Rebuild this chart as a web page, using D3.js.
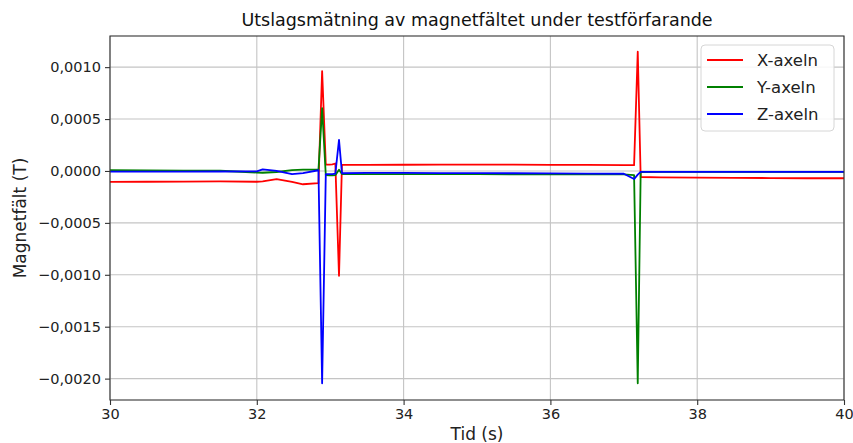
<!DOCTYPE html>
<html>
<head>
<meta charset="utf-8">
<script src="https://cdn.jsdelivr.net/npm/d3@7"></script>
<style>
  html, body { margin: 0; padding: 0; background: #fff; }
  svg { display: block; font-family: "DejaVu Sans", sans-serif; }
</style>
</head>
<body>
<svg id="chart" width="853" height="443"></svg>
<script>
// ---- Data ----
const time = [30, 30.5, 31, 31.5, 32, 32.08, 32.27, 32.48, 32.63, 32.84, 32.89, 32.94, 32.99, 33.03, 33.07, 33.12, 33.16,
              33.5, 34, 34.5, 35, 35.5, 36, 36.5, 37, 37.14, 37.19, 37.23, 37.5, 38, 38.5, 39, 39.5, 40];

const xAxeln = [-0.000106, -0.000104, -0.000102, -0.000100, -0.000104, -0.000100, -0.000078, -0.000105, -0.000128, -0.000118,
                0.000962, 0.000062, 0.000062, 0.000063, 0.000072, -0.001010, 0.000058,
                0.000058, 0.000060, 0.000062, 0.000062, 0.000061, 0.000059, 0.000058, 0.000056, 0.000056,
                0.001149, -0.000058, -0.000062, -0.000065, -0.000066, -0.000068, -0.000070, -0.000070];

const yAxeln = [0.000007, 0.000006, 0.000004, 0.000002, -0.000015, -0.000017, -0.000010, 0.000008, 0.000013, 0.000012,
                0.000604, -0.000040, -0.000042, -0.000042, -0.000040, 0.000012, -0.000030,
                -0.000030, -0.000030, -0.000031, -0.000031, -0.000032, -0.000032, -0.000033, -0.000033, -0.000040,
                -0.002045, -0.000010, -0.000009, -0.000009, -0.000009, -0.000008, -0.000008, -0.000008];

const zAxeln = [-0.000007, -0.000007, -0.000006, -0.000005, -0.000003, 0.000016, 0.000000, -0.000031, -0.000020, 0.000007,
                -0.002045, -0.000030, -0.000030, -0.000030, -0.000025, 0.000299, -0.000022,
                -0.000018, -0.000019, -0.000020, -0.000021, -0.000022, -0.000024, -0.000026, -0.000027, -0.000078,
                -0.000035, -0.000008, -0.000008, -0.000008, -0.000008, -0.000008, -0.000008, -0.000008];

const seriesNames = ["X-axeln", "Y-axeln", "Z-axeln"];
const seriesColors = ["#ff0000", "#008000", "#0000ff"];
const xTicks = [30, 32, 34, 36, 38, 40];
const yTicks = [-0.0020, -0.0015, -0.0010, -0.0005, 0.0000, 0.0005, 0.0010];

const titleText = "Utslagsmätning av magnetfältet under testförfarande";
const xLabel = "Tid (s)";
const yLabel = "Magnetfält (T)";

// ---- Layout ----
const W = 853, H = 443;
const margin = {left: 110, right: 9, top: 36, bottom: 43};
const svg = d3.select("#chart");

const x = d3.scaleLinear().domain([30, 40]).range([margin.left, W - margin.right]);
const y = d3.scaleLinear().domain([-0.002206, 0.0013]).range([H - margin.bottom, margin.top]);

const fmtY = v => {
  const s = Math.abs(v).toFixed(4).replace(".", ",");
  return (v < -1e-12 ? "\u2212" : "") + s;
};

// grid
const grid = svg.append("g");
grid.selectAll("line.gx").data(xTicks).join("line")
  .attr("x1", d => x(d)).attr("x2", d => x(d))
  .attr("y1", margin.top).attr("y2", H - margin.bottom)
  .attr("stroke", "#c4c4c4").attr("stroke-width", 1.1);
grid.selectAll("line.gy").data(yTicks).join("line")
  .attr("y1", d => y(d)).attr("y2", d => y(d))
  .attr("x1", margin.left).attr("x2", W - margin.right)
  .attr("stroke", "#c4c4c4").attr("stroke-width", 1.1);

// lines
const seriesData = [xAxeln, yAxeln, zAxeln];
const line = d3.line().x(d => x(d[0])).y(d => y(d[1]));
seriesData.forEach((vals, i) => {
  svg.append("path")
    .datum(time.map((t, j) => [t, vals[j]]))
    .attr("fill", "none")
    .attr("stroke", seriesColors[i])
    .attr("stroke-width", 1.8)
    .attr("stroke-linejoin", "round")
    .attr("d", line);
});

// axes
const xAxis = d3.axisBottom(x).tickValues(xTicks).tickFormat(d3.format("d")).tickSizeOuter(0).tickSize(5).tickPadding(4);
const yAxis = d3.axisLeft(y).tickValues(yTicks).tickFormat(fmtY).tickSizeOuter(0).tickSize(5).tickPadding(4);

const gx = svg.append("g").attr("transform", `translate(0,${H - margin.bottom})`).call(xAxis);
const gy = svg.append("g").attr("transform", `translate(${margin.left},0)`).call(yAxis);
[gx, gy].forEach(g => {
  g.select(".domain").remove();
  g.selectAll(".tick line").attr("stroke", "#333").attr("stroke-width", 1.1);
  g.selectAll(".tick text").attr("fill", "#222").style("font-size", "14.5px").style("font-family", "DejaVu Sans");
});

// frame
svg.append("rect")
  .attr("x", margin.left).attr("y", margin.top)
  .attr("width", W - margin.left - margin.right)
  .attr("height", H - margin.top - margin.bottom)
  .attr("fill", "none").attr("stroke", "#333").attr("stroke-width", 1.1);

// title & labels
svg.append("text").attr("x", (margin.left + W - margin.right) / 2).attr("y", 26)
  .attr("text-anchor", "middle").style("font-size", "17.5px").attr("fill", "#111").text(titleText);
svg.append("text").attr("x", (margin.left + W - margin.right) / 2).attr("y", 440)
  .attr("text-anchor", "middle").style("font-size", "17px").attr("fill", "#222").text(xLabel);
svg.append("text")
  .attr("transform", `translate(26,${(margin.top + H - margin.bottom) / 2}) rotate(-90)`)
  .attr("text-anchor", "middle").style("font-size", "17px").attr("fill", "#222").text(yLabel);

// legend
const lg = svg.append("g");
lg.append("rect").attr("x", 701).attr("y", 45).attr("width", 133).attr("height", 86)
  .attr("rx", 4).attr("fill", "#fff").attr("fill-opacity", 0.85)
  .attr("stroke", "#d6d6d6").attr("stroke-width", 1);
seriesNames.forEach((n, i) => {
  const yy = 60 + i * 27;
  lg.append("line").attr("x1", 707).attr("x2", 743).attr("y1", yy).attr("y2", yy)
    .attr("stroke", seriesColors[i]).attr("stroke-width", 1.8);
  lg.append("text").attr("x", 757).attr("y", yy).attr("dy", "0.36em")
    .style("font-size", "16.5px").attr("fill", "#222").text(n);
});
</script>
</body>
</html>
